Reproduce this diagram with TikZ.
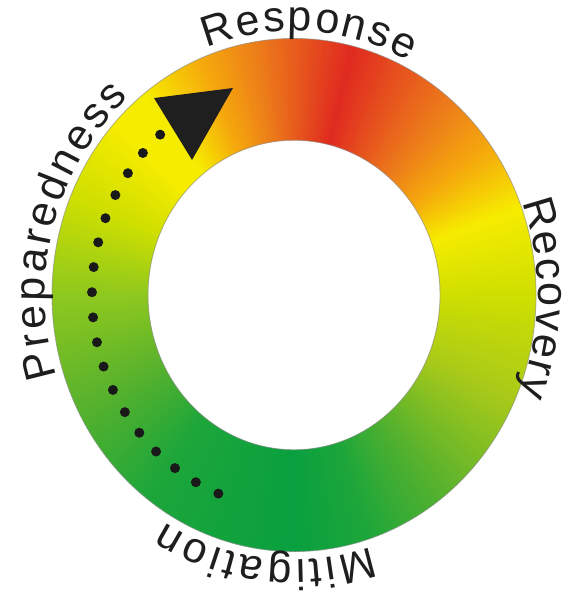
\documentclass[tikz,border=0pt]{standalone}
\usepackage{fontspec}
\setmainfont{Liberation Sans}
\usetikzlibrary{decorations.text}

\definecolor{ringdk}{HTML}{09A03F}
\definecolor{ringgr}{HTML}{1DA63A}
\definecolor{ringmid}{HTML}{5BB32C}
\definecolor{ringyg}{HTML}{A7C91A}
\definecolor{ringlime}{HTML}{CFDF00}
\definecolor{ringlt}{HTML}{8EC81E}
\definecolor{ringyel}{HTML}{F6EC00}
\definecolor{ringamb}{HTML}{F5AA0C}
\definecolor{ringor}{HTML}{EC7A1A}
\definecolor{ringred}{HTML}{E02A20}
\definecolor{txt}{HTML}{1E1E1E}
\newcommand\ringfont{\fontsize{24.5}{28}\selectfont\color{txt}}

\begin{document}
\begin{tikzpicture}[
    x=0.02cm, y=0.02cm, yscale=1.06,
    rim/.style={draw=black!45, line width=0.5pt, opacity=0.6},
    ringtext/.style={decorate, decoration={text along path, text align=fit to path}},
    dots/.style={draw=black!90, line width=0.2cm, line cap=round,
      dash pattern=on 0pt off 0.504cm},
    headfill/.style={fill=black!88}
  ]
  \useasboundingbox (-294,-281.1) rectangle (273,278.3);
  \coordinate (c) at (0,0);

  \foreach \b/\cb [remember=\b as \a (initially -90), remember=\cb as \ca (initially ringdk)] in
      {-72/ringgr, -50/ringmid, -25/ringyg, 0/ringlime, 20/ringyel, 35/ringamb,
       50/ringor, 76/ringred, 98/ringor, 113/ringamb, 128/ringyel, 138/ringyel,
       157/ringlime, 180/ringlt, 205/ringmid, 232/ringgr, 270/ringdk}{
    \pgfmathtruncatemacro\nn{\b-\a}
    \foreach \i in {1,...,\nn}{
      \pgfmathsetmacro\sa{\a+\i-1}
      \pgfmathsetmacro\ea{\a+\i+0.5}
      \pgfmathtruncatemacro\pc{100*(\i-0.5)/\nn}
      \colorlet{wc}{\cb!\pc!\ca}
      \fill[wc] (\sa:146) arc[start angle=\sa, end angle=\ea, radius=146]
        -- (\ea:242) arc[start angle=\ea, end angle=\sa, radius=242] -- cycle;
    }
  }
  \draw[rim] (c) circle[radius=242];
  \draw[rim] (c) circle[radius=146];

  \path[ringtext, decoration={text={|\ringfont|Response}}]
    (110.5:249) arc[start angle=110.5, end angle=62.5, radius=249];
  \path[ringtext, decoration={text={|\ringfont|Recovery}}]
    (21:244) arc[start angle=21, end angle=-22.5, radius=244];
  \path[ringtext, decoration={text={|\ringfont|Mitigation}}]
    (-72:250) arc[start angle=-72, end angle=-121, radius=250];
  \path[ringtext, decoration={text={|\ringfont|Preparedness}}]
    (198:249) arc[start angle=198, end angle=131.5, radius=249];

  \coordinate (from) at (248:202);
  \draw[dots] (from) arc[start angle=248, end angle=131, radius=202];
  \fill[headfill] (-140,185.8) -- (-61,195.3) -- (-102,127.4) -- cycle;
\end{tikzpicture}
\end{document}
